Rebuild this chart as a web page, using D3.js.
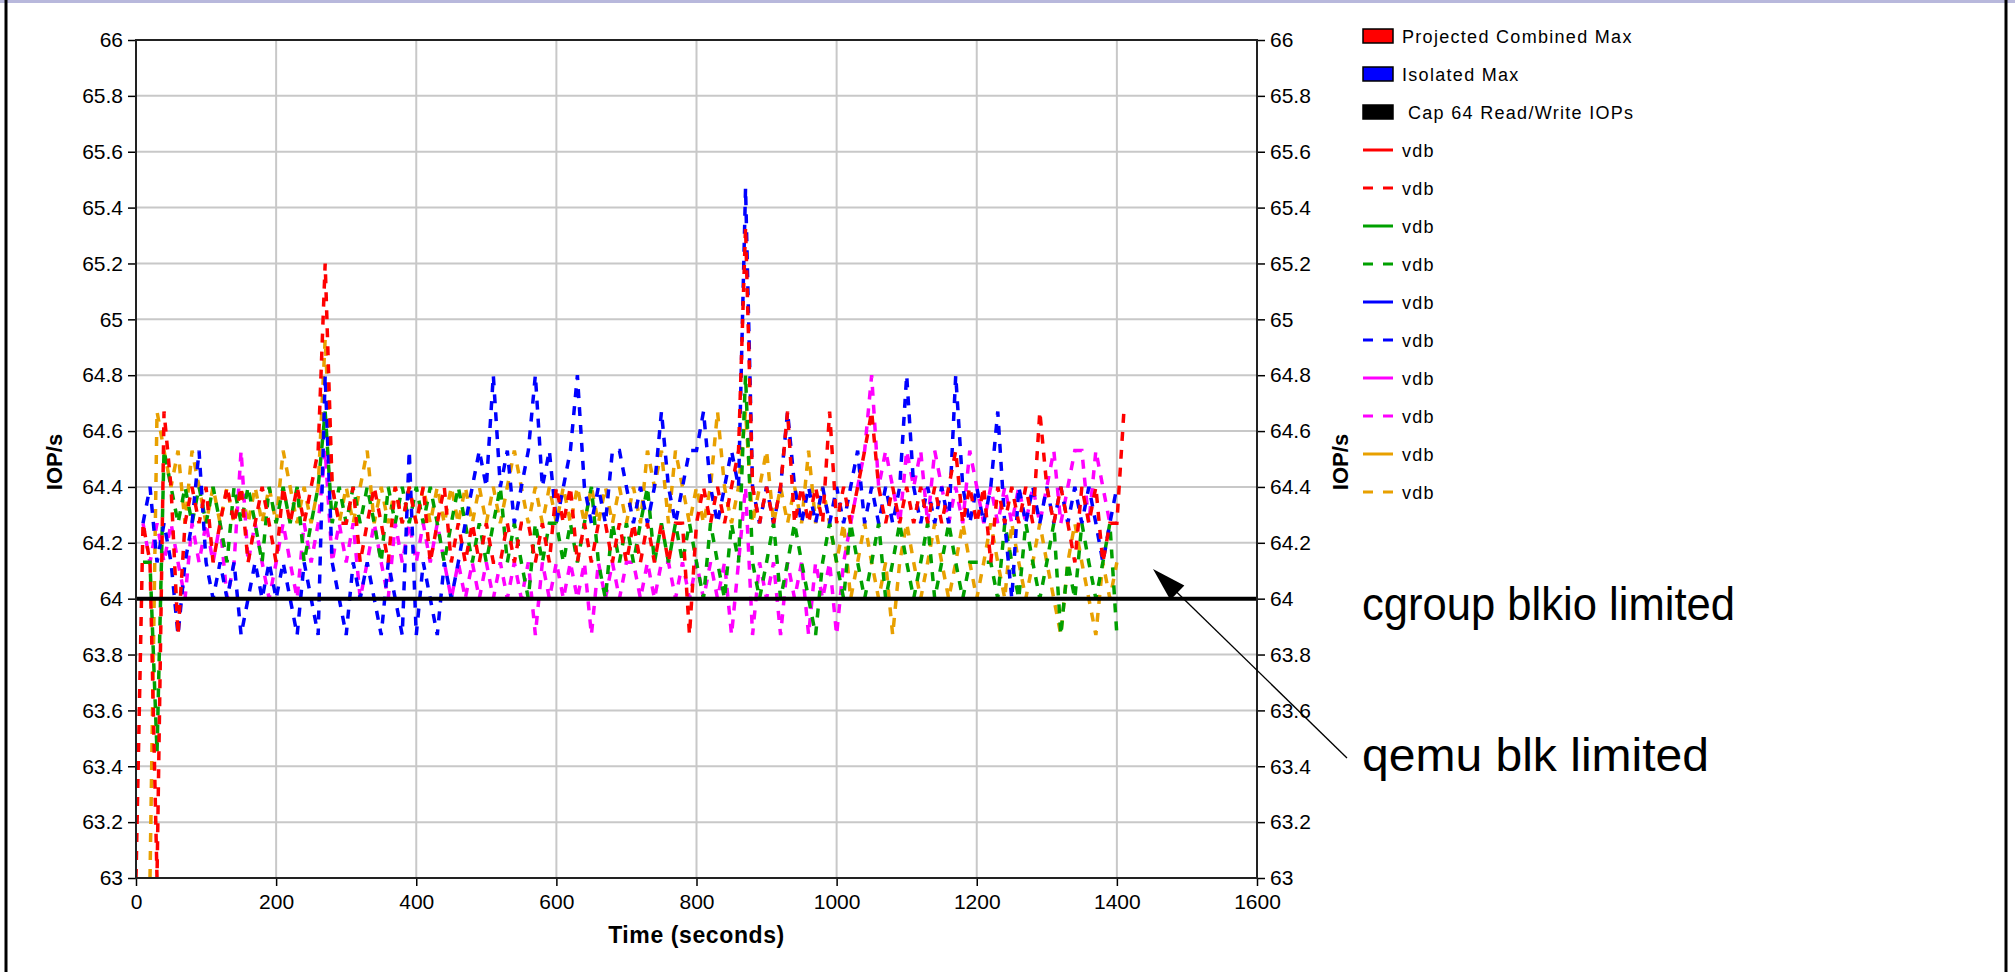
<!DOCTYPE html>
<html>
<head>
<meta charset="utf-8">
<script src="https://cdn.jsdelivr.net/npm/d3@7"></script>
<style>
  body { margin: 0; background: #fff; }
  svg { display: block; font-family: "Liberation Sans", Arial, sans-serif; }
</style>
</head>
<body>
<svg id="chart"></svg>
<script>
// sample times (seconds)
const times = [
  0, 10, 20, 30, 40, 50, 60, 70, 80, 90,
  100, 110, 120, 130, 140, 150, 160, 170, 180, 190,
  200, 210, 220, 230, 240, 250, 260, 270, 280, 290,
  300, 310, 320, 330, 340, 350, 360, 370, 380, 390,
  400, 410, 420, 430, 440, 450, 460, 470, 480, 490,
  500, 510, 520, 530, 540, 550, 560, 570, 580, 590,
  600, 610, 620, 630, 640, 650, 660, 670, 680, 690,
  700, 710, 720, 730, 740, 750, 760, 770, 780, 790,
  800, 810, 820, 830, 840, 850, 860, 870, 880, 890,
  900, 910, 920, 930, 940, 950, 960, 970, 980, 990,
  1000, 1010, 1020, 1030, 1040, 1050, 1060, 1070, 1080, 1090,
  1100, 1110, 1120, 1130, 1140, 1150, 1160, 1170, 1180, 1190,
  1200, 1210, 1220, 1230, 1240, 1250, 1260, 1270, 1280, 1290,
  1300, 1310, 1320, 1330, 1340, 1350, 1360, 1370, 1380, 1390,
  1400, 1410
];

// IOP/s per dashed vdb series (null = no sample)
const redDash = [
  63, 64.27, 64.13, 63, 64.67, 64.4, 63.87, 64.27, 64.4, 64.27,
  64.4, 64.13, 64.27, 64.4, 64.27, 64.4, 64.13, 64.27, 64.4, 64.27,
  64.13, 64.4, 64.27, 64.4, 64.27, 64.4, 64.53, 65.2, 64.4, 64.27,
  64.27, 64.4, 64.13, 64.27, 64.4, 64.27, 64.13, 64.4, 64.27, 64.4,
  64.27, 64.4, 64.13, 64.27, 64.4, 64.13, 64.27, 64.13, 64.27, 64.13,
  64.27, 64.13, 64.13, 64.27, 64.13, 64.27, 64.27, 64.13, 64.27, 64.13,
  64.4, 64.27, 64.4, 64.13, 64.27, 64.13, 64.27, 64.27, 64.13, 64.27,
  64.13, 64.27, 64.13, 64.27, 64.13, 64.27, 64.13, 64.27, 64.27, 63.87,
  64.27, 64.4, 64.27, 64.4, 64.27, 64.4, 64.53, 65.33, 64.4, 64.27,
  64.4, 64.27, 64.4, 64.67, 64.27, 64.4, 64.27, 64.4, 64.27, 64.67,
  64.27, 64.4, 64.27, 64.4, 64.53, 64.67, 64.4, 64.27, 64.4, 64.27,
  64.4, 64.27, 64.4, 64.27, 64.4, 64.27, 64.4, 64.53, 64.27, 64.4,
  64.27, 64.4, 64.13, 64.4, 64.27, 64.4, 64.27, 64.4, 64.27, 64.67,
  64.4, 64.27, 64.4, 64.27, 64.13, 64.4, 64.27, 64.4, 64.13, 64.27,
  64.27, 64.67
];
const greenDash = [
  null, 64.13, 64.13, 63.45, 64.53, 64.4, 64.27, 64.4, 64.27, 64.4,
  64.27, 64.4, 64.27, 64.13, 64.4, 64.27, 64.4, 64.27, 64.13, 64.4,
  64.27, 64.4, 64.27, 64.4, 64.13, 64.27, 64.4, 64.67, 64.27, 64.4,
  64.27, 64.4, 64.27, 64.4, 64.27, 64.13, 64.4, 64.27, 64.4, 64.27,
  64.4, 64.27, 64.4, 64.27, 64.13, 64.27, 64.4, 64.27, 64.13, 64.27,
  64.13, 64.27, 64.4, 64.13, 64.27, 64.13, 64, 64.27, 64.13, 64.27,
  64.27, 64.13, 64.27, 64.13, 64.27, 64.4, 64.13, 64, 64.27, 64.13,
  64.27, 64.13, 64.27, 64.4, 64.13, 64.27, 64.13, 64.27, 64.13, 64.27,
  64.13, 64, 64.27, 64.13, 64, 64.27, 64.13, 64.8, 64.13, 64,
  64.13, 64.27, 64, 64.13, 64.27, 64.13, 64, 63.87, 64.13, 64.27,
  64.13, 64, 64.27, 64.13, 64, 64.13, 64.27, 64, 64.13, 64.27,
  64.13, 64, 64.13, 64.27, 64, 64.13, 64.27, 64.13, 64, 64.13,
  64.13, 64.13, 64.13, 64, 64.27, 64.13, 64, 64.27, 64.13, 64,
  64.13, 64.27, 63.87, 64.13, 64, 64.27, 64.13, 64, 64.13, 64.27,
  63.87, null
];
const blueDash = [
  null, 64.27, 64.4, 64.13, 64.27, 64.13, 63.87, 64.13, 64.27, 64.53,
  64.13, 64, 64.13, 64, 64.13, 63.87, 64, 64.13, 64, 64.13,
  64, 64.13, 64, 63.87, 64.13, 64, 63.87, 64.8, 64.13, 64,
  63.87, 64.13, 64, 64.13, 64, 63.87, 64.13, 64, 63.87, 64.53,
  63.87, 64.13, 64, 63.87, 64.13, 64, 64.13, 64.27, 64.4, 64.53,
  64.4, 64.8, 64.4, 64.53, 64.27, 64.4, 64.53, 64.8, 64.4, 64.53,
  64.27, 64.4, 64.53, 64.8, 64.4, 64.27, 64.4, 64.27, 64.53, 64.53,
  64.4, 64.27, 64.4, 64.27, 64.4, 64.67, 64.4, 64.27, 64.4, 64.53,
  64.53, 64.67, 64.4, 64.27, 64.4, 64.53, 64.4, 65.47, 64.4, 64.27,
  64.4, 64.27, 64.4, 64.67, 64.4, 64.27, 64.4, 64.27, 64.4, 64.27,
  64.4, 64.27, 64.4, 64.53, 64.27, 64.4, 64.27, 64.4, 64.27, 64.4,
  64.8, 64.4, 64.27, 64.4, 64.27, 64.4, 64.27, 64.8, 64.4, 64.27,
  64.4, 64.27, 64.4, 64.67, 64.27, 64, 64.4, 64.27, 64.4, 64.27,
  64.4, 64.27, 64.4, 64.27, 64.4, 64.27, 64.4, 64.27, 64.13, 64.27,
  64.4, null
];
const magentaDash = [
  null, 64.27, 64.13, 64.27, 64.13, 64.27, 64.13, 64, 64.27, 64.13,
  64.27, 64.13, 64.27, 64, 64.13, 64.53, 64.13, 64.27, 64.13, 64,
  64.13, 64.27, 64.13, 64, 64.27, 64.13, 64.27, 64.53, 64.13, 64.27,
  64.13, 64.27, 64, 64.13, 64.27, 64.13, 64, 64.27, 64.13, 64.27,
  64.13, 64.27, 64.13, 64.27, 64.13, 64, 64.13, 64, 64.13, 64,
  64.13, 64, 64.13, 64, 64.13, 64, 64.13, 63.87, 64.13, 64,
  64.13, 64, 64.13, 64, 64.13, 63.87, 64.13, 64, 64.13, 64,
  64.13, 64.13, 64, 64.13, 64, 64.13, 64.13, 64, 64.13, 64,
  64.13, 64, 64.13, 64, 64.13, 63.87, 64.13, 64.4, 63.87, 64.13,
  64, 64.13, 63.87, 64.13, 64, 64.13, 63.87, 64.13, 64, 64.13,
  63.87, 64.13, 64.27, 64.4, 64.53, 64.8, 64.4, 64.53, 64.4, 64.27,
  64.53, 64.4, 64.53, 64.27, 64.53, 64.4, 64.27, 64.4, 64.27, 64.53,
  64.4, 64.27, 64.4, 64.27, 64.4, 64.27, 64.4, 64.27, 64.4, 64.27,
  64.4, 64.53, 64.27, 64.4, 64.53, 64.53, 64.27, 64.53, 64.4, 64.27,
  64.27, null
];
const orangeDash = [
  null, null, 63, 64.67, 64.53, 64.4, 64.53, 64.27, 64.53, 64.4,
  64.27, 64.4, 64.27, 64.4, 64.27, 64.4, 64.27, 64.4, 64.27, 64.4,
  64.27, 64.53, 64.4, 64.27, 64.4, 64.27, 64.4, 64.93, 64.4, 64.27,
  64.4, 64.27, 64.4, 64.53, 64.27, 64.4, 64.27, 64.4, 64.27, 64.4,
  64.27, 64.4, 64.27, 64.4, 64.27, 64.4, 64.27, 64.4, 64.27, 64.4,
  64.27, 64.4, 64.27, 64.4, 64.53, 64.4, 64.27, 64.4, 64.27, 64.4,
  64.27, 64.4, 64.27, 64.4, 64.27, 64.4, 64.27, 64.4, 64.27, 64.4,
  64.27, 64.4, 64.27, 64.53, 64.4, 64.53, 64.27, 64.53, 64.4, 64.27,
  64.4, 64.27, 64.4, 64.67, 64.4, 64.27, 64.4, 64.67, 64.27, 64.4,
  64.53, 64.27, 64.4, 64.27, 64.4, 64.27, 64.53, 64.27, 64.4, 64.27,
  64.13, 64.27, 64, 64.13, 64.27, 64.13, 64, 64.13, 63.87, 64.13,
  64.27, 64.13, 64, 64.13, 64.27, 64.13, 64, 64.13, 64.27, 64.13,
  64, 64.13, 64.27, 64.13, 64, 64.27, 64.13, 64, 64.13, 64.27,
  64.13, 64, 63.87, 64.13, 64.27, 64.13, 64, 63.87, 64.13, 64,
  64.13, null
];

const capValue = 64;

const xTicks = [0, 200, 400, 600, 800, 1000, 1200, 1400, 1600];
const yTicks = [63, 63.2, 63.4, 63.6, 63.8, 64, 64.2, 64.4, 64.6, 64.8, 65, 65.2, 65.4, 65.6, 65.8, 66];
const yTickLabels = ["63", "63.2", "63.4", "63.6", "63.8", "64", "64.2", "64.4", "64.6", "64.8", "65", "65.2", "65.4", "65.6", "65.8", "66"];

const legendLabels = ["Projected Combined Max", "Isolated Max", "Cap 64 Read/Write IOPs",
  "vdb", "vdb", "vdb", "vdb", "vdb", "vdb", "vdb", "vdb", "vdb", "vdb"];
const legendKinds = ["box", "box", "box", "solid", "dash", "solid", "dash", "solid", "dash", "solid", "dash", "solid", "dash"];
const legendColors = ["#ff0000", "#0000ff", "#000000", "#ff0000", "#ff0000", "#00a000", "#00a000",
  "#0000ff", "#0000ff", "#ff00ff", "#ff00ff", "#e8a000", "#e8a000"];

const notes = ["cgroup blkio limited", "qemu blk limited"];

window.onload = function () {
  const width = 2015, height = 972;
  const plot = { left: 136, right: 1257, top: 40, bottom: 878 };

  const svg = d3.select("#chart").attr("width", width).attr("height", height);
  svg.append("rect").attr("width", width).attr("height", height).attr("fill", "#fff");

  const x = d3.scaleLinear().domain([0, 1600]).range([plot.left, plot.right]);
  const y = d3.scaleLinear().domain([63, 66]).range([plot.bottom, plot.top]);

  // grid
  const grid = svg.append("g").attr("stroke", "#c8c8c8").attr("stroke-width", 2);
  grid.selectAll(".gx").data(xTicks.slice(1, -1)).enter().append("line")
    .attr("x1", d => x(d)).attr("x2", d => x(d))
    .attr("y1", plot.top).attr("y2", plot.bottom);
  grid.selectAll(".gy").data(yTicks.slice(1, -1)).enter().append("line")
    .attr("x1", plot.left).attr("x2", plot.right)
    .attr("y1", d => y(d)).attr("y2", d => y(d));

  // series
  svg.append("clipPath").attr("id", "clip").append("rect")
    .attr("x", plot.left).attr("y", plot.top)
    .attr("width", plot.right - plot.left).attr("height", plot.bottom - plot.top);

  const series = [
    { values: orangeDash, color: "#e8a000" },
    { values: magentaDash, color: "#ff00ff" },
    { values: greenDash, color: "#00a000" },
    { values: blueDash, color: "#0000ff" },
    { values: redDash, color: "#ff0000" }
  ];
  const line = d3.line()
    .defined(d => d[1] != null)
    .x(d => x(d[0]))
    .y(d => y(d[1]));

  const lines = svg.append("g").attr("clip-path", "url(#clip)");
  series.forEach(s => {
    lines.append("path")
      .datum(times.map((t, i) => [t, s.values[i]]))
      .attr("fill", "none")
      .attr("stroke", s.color)
      .attr("stroke-width", 3.5)
      .attr("stroke-dasharray", "9,9")
      .attr("d", line);
  });

  // cap line
  svg.append("line")
    .attr("x1", x(0)).attr("x2", x(1600))
    .attr("y1", y(capValue)).attr("y2", y(capValue))
    .attr("stroke", "#000").attr("stroke-width", 4);

  // axes
  const fmt = d => yTickLabels[yTicks.indexOf(d)];
  const styleAxis = g => {
    g.select(".domain").remove();
    g.selectAll("line").attr("stroke", "#000").attr("stroke-width", 1.5);
    g.selectAll("text").attr("font-size", 21).attr("font-family", "Liberation Sans, Arial, sans-serif").attr("fill", "#000");
  };
  svg.append("g").attr("transform", `translate(${plot.left},0)`)
    .call(d3.axisLeft(y).tickValues(yTicks).tickFormat(fmt).tickSize(8).tickPadding(5))
    .call(styleAxis);
  svg.append("g").attr("transform", `translate(${plot.right},0)`)
    .call(d3.axisRight(y).tickValues(yTicks).tickFormat(fmt).tickSize(8).tickPadding(5))
    .call(styleAxis);
  svg.append("g").attr("transform", `translate(0,${plot.bottom})`)
    .call(d3.axisBottom(x).tickValues(xTicks).tickFormat(d3.format("d")).tickSize(8).tickPadding(8))
    .call(styleAxis);

  // plot frame
  svg.append("rect")
    .attr("x", plot.left).attr("y", plot.top)
    .attr("width", plot.right - plot.left).attr("height", plot.bottom - plot.top)
    .attr("fill", "none").attr("stroke", "#222").attr("stroke-width", 2);

  // axis titles
  svg.append("text")
    .attr("x", (plot.left + plot.right) / 2).attr("y", 943)
    .attr("text-anchor", "middle").attr("font-size", 23).attr("font-weight", "bold")
    .attr("letter-spacing", 0.6)
    .text("Time (seconds)");
  [62, 1348].forEach(px => {
    svg.append("text")
      .attr("transform", `translate(${px},462) rotate(-90)`)
      .attr("text-anchor", "middle").attr("font-size", 22).attr("font-weight", "bold")
      .text("IOP/s");
  });

  // legend
  const legend = svg.append("g").attr("transform", "translate(1363,36)");
  const rows = legend.selectAll("g").data(legendLabels).enter().append("g")
    .attr("transform", (d, i) => `translate(0,${i * 38})`);
  rows.each(function (d, i) {
    const g = d3.select(this);
    const kind = legendKinds[i], color = legendColors[i];
    if (kind === "box") {
      g.append("rect").attr("x", 0).attr("y", -7).attr("width", 30).attr("height", 14)
        .attr("fill", color).attr("stroke", "#000").attr("stroke-width", 1.5);
    } else {
      g.append("line").attr("x1", 0).attr("x2", 30).attr("y1", 0).attr("y2", 0)
        .attr("stroke", color).attr("stroke-width", 3)
        .attr("stroke-dasharray", kind === "dash" ? "10,10" : null);
    }
    g.append("text")
      .attr("x", kind === "box" && i === 2 ? 45 : 39).attr("y", 7)
      .attr("font-size", 18).attr("letter-spacing", 1.3)
      .text(d);
  });

  // annotations
  svg.append("text").attr("x", 1362).attr("y", 620).attr("font-size", 46)
    .attr("textLength", 373).attr("lengthAdjust", "spacingAndGlyphs").text(notes[0]);
  svg.append("text").attr("x", 1362).attr("y", 771).attr("font-size", 46)
    .attr("textLength", 347).attr("lengthAdjust", "spacingAndGlyphs").text(notes[1]);

  const tip = [1153, 569], tail = [1347, 758];
  svg.append("line")
    .attr("x1", tail[0]).attr("y1", tail[1]).attr("x2", tip[0] + 20).attr("y2", tip[1] + 19.5)
    .attr("stroke", "#000").attr("stroke-width", 1.3);
  const len = Math.hypot(tail[0] - tip[0], tail[1] - tip[1]);
  const ux = (tail[0] - tip[0]) / len, uy = (tail[1] - tip[1]) / len;
  const bx = tip[0] + ux * 34, by = tip[1] + uy * 34;
  svg.append("path")
    .attr("d", `M${tip[0]},${tip[1]} L${bx - uy * 10},${by + ux * 10} L${bx + uy * 10},${by - ux * 10} Z`)
    .attr("fill", "#000");

  // page frame
  svg.append("line").attr("x1", 0).attr("x2", width).attr("y1", 1.5).attr("y2", 1.5)
    .attr("stroke", "#b8b8dc").attr("stroke-width", 3);
  svg.append("line").attr("x1", 6).attr("x2", 6).attr("y1", 0).attr("y2", height)
    .attr("stroke", "#000").attr("stroke-width", 3);
  svg.append("line").attr("x1", 2006).attr("x2", 2006).attr("y1", 0).attr("y2", height)
    .attr("stroke", "#000").attr("stroke-width", 3);
};
</script>
</body>
</html>
